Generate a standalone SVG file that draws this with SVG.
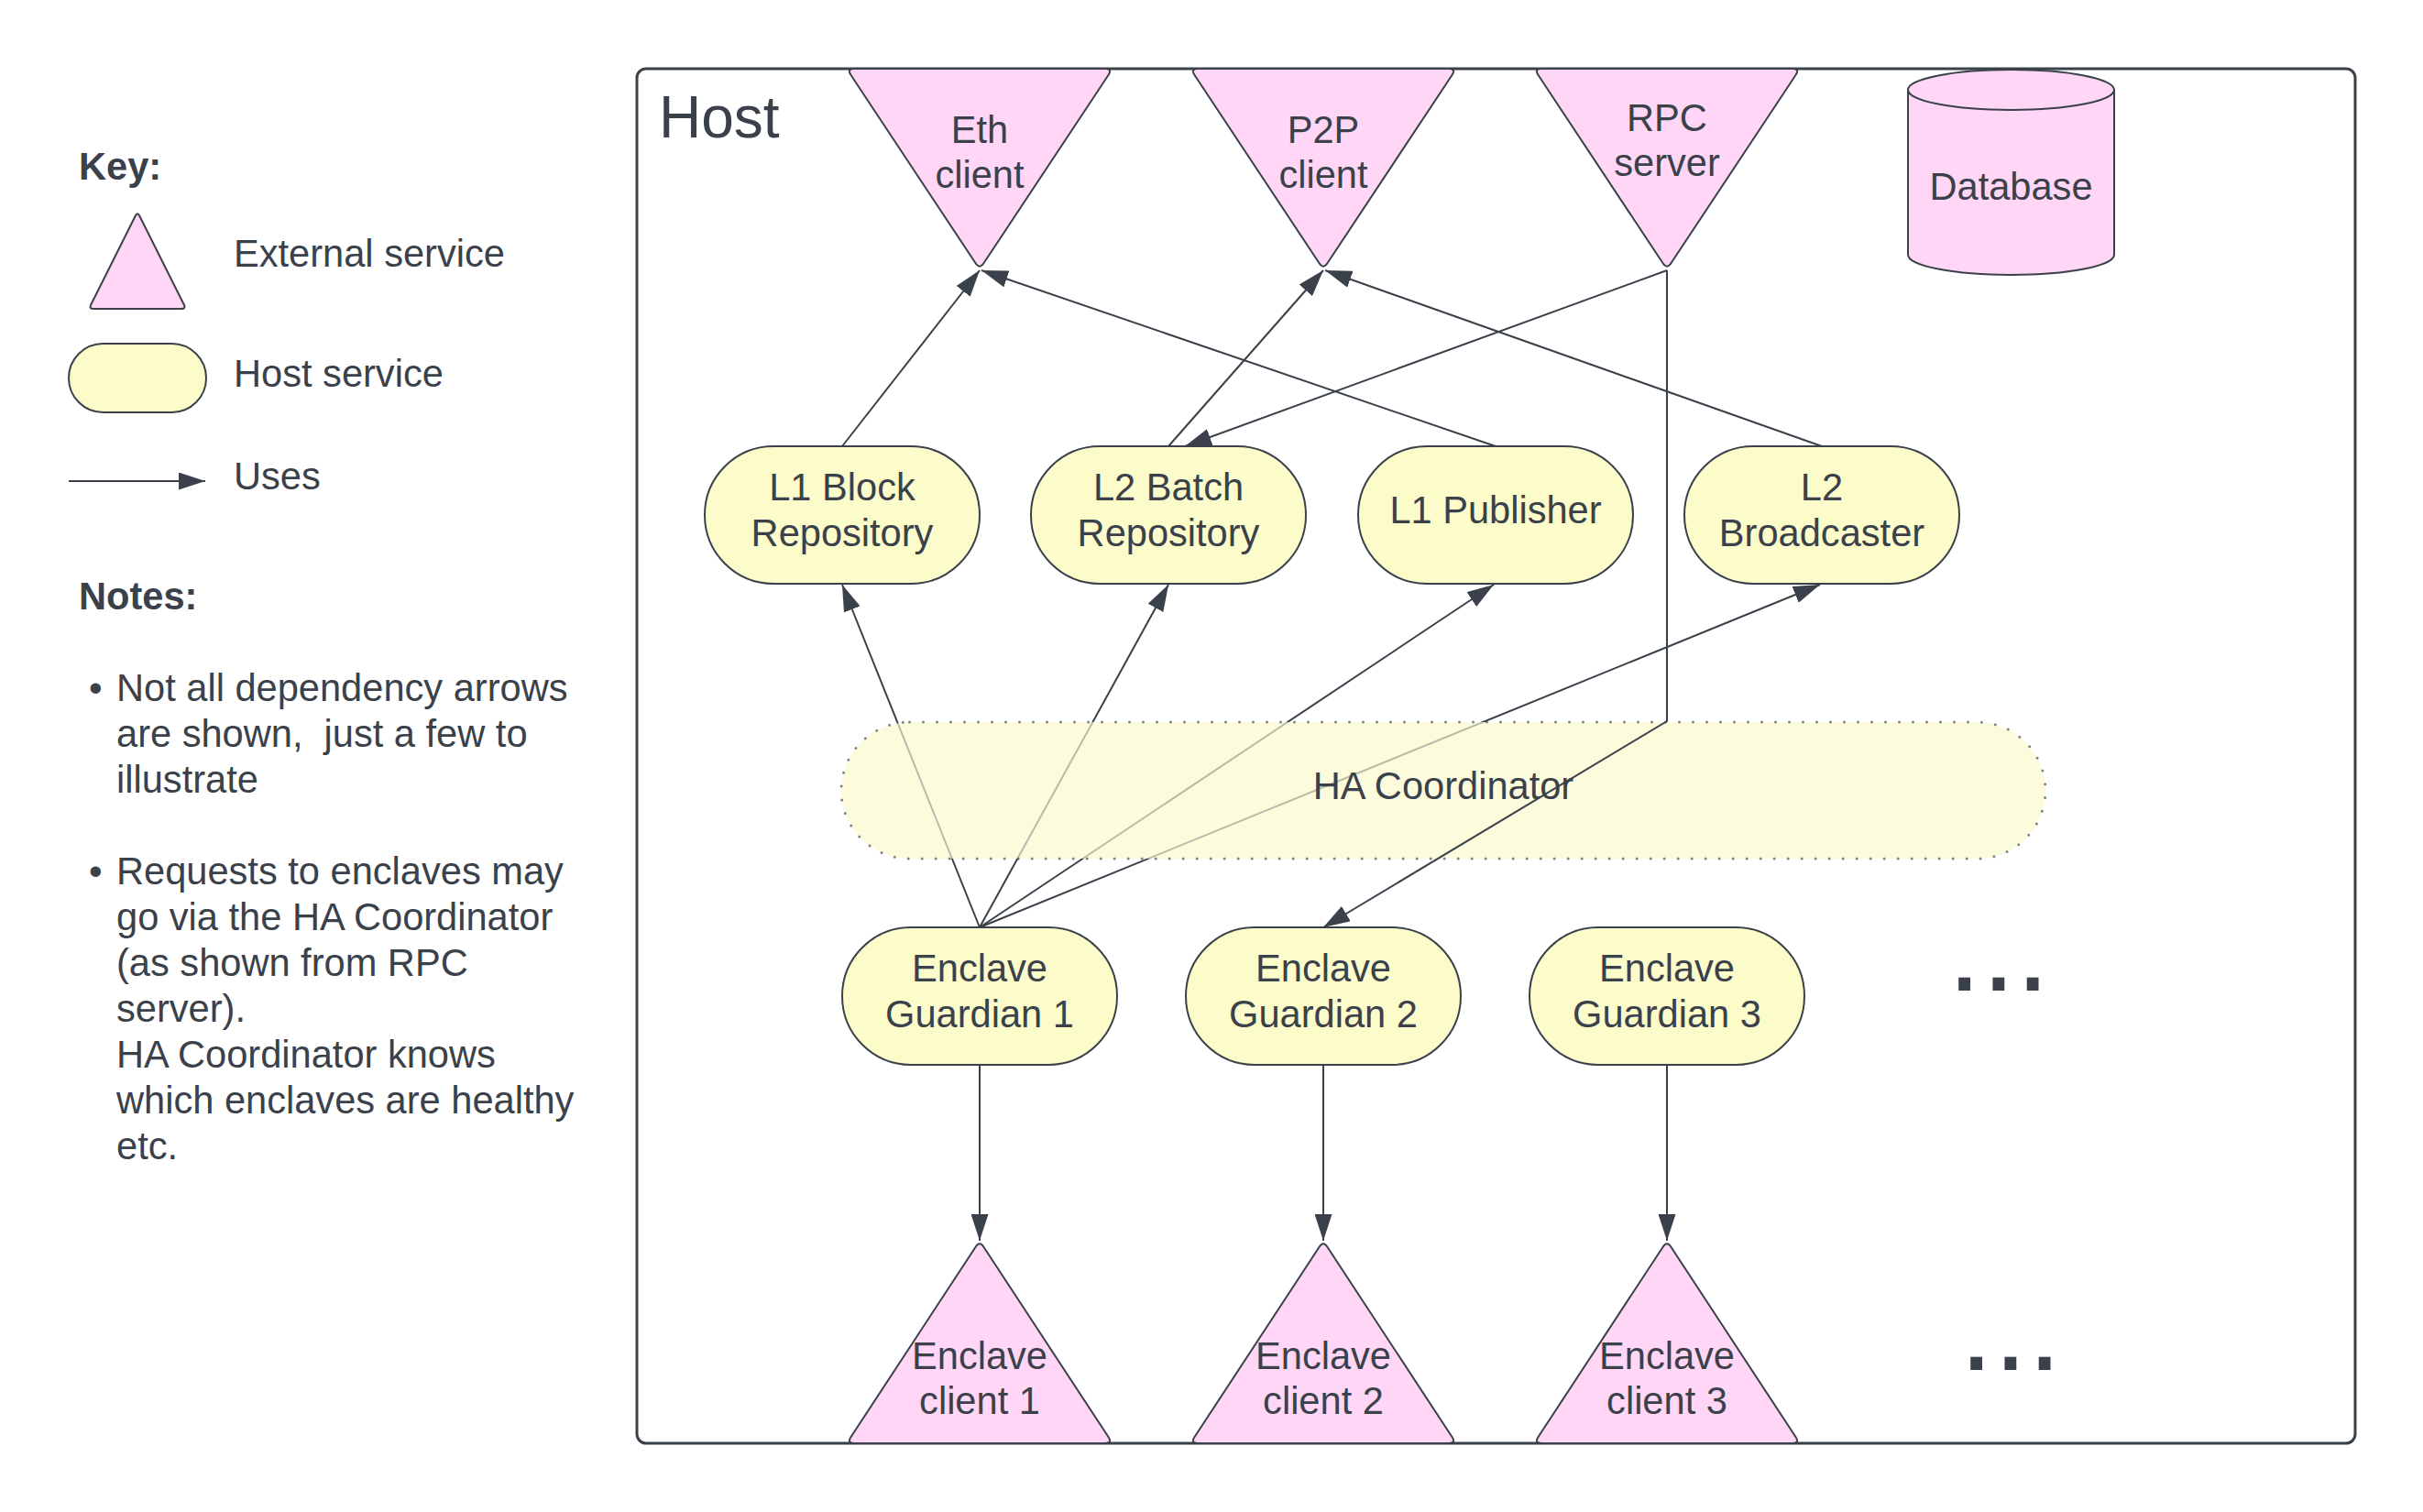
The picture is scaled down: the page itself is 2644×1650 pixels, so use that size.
<svg xmlns="http://www.w3.org/2000/svg" width="2644" height="1650" viewBox="0 0 2644 1650">
<defs>
<style>
text { font-family: "Liberation Sans", Arial, sans-serif; fill: #3a414a; font-size: 41.6px; }
.c { text-anchor: middle; }
.b { font-weight: bold; }
.ext { fill: #ffd6f5; stroke: #3a414a; stroke-width: 2; stroke-linejoin: round; }
.svc { fill: #fcfbca; stroke: #3a414a; stroke-width: 2; }
.edge { fill: none; stroke: #3a414a; stroke-width: 2; }
.arrow { marker-end: url(#ah); }
.dots { font-size: 134px; }
</style>
<marker id="ah" markerUnits="userSpaceOnUse" viewBox="0 0 29 19" refX="29" refY="9.5" markerWidth="29" markerHeight="19" orient="auto"><path d="M0,0 L29,9.5 L0,19 Z" fill="#3a414a"/></marker>
<path id="tri-down" d="M8,0 L282,0 Q290,0 285.6,6.7 L149.4,212.3 Q145,219 140.6,212.3 L4.4,6.7 Q0,0 8,0 Z"/>
<path id="tri-up" d="M140.6,6.7 Q145,0 149.4,6.7 L285.6,214.3 Q290,221 282,221 L8,221 Q0,221 4.4,214.3 Z"/>
<rect id="pill" width="300" height="150" rx="75" ry="75"/>
<mask id="under-ha" maskUnits="userSpaceOnUse" x="0" y="0" width="2644" height="1650">
<rect width="2644" height="1650" fill="#ffffff"/>
<rect x="918" y="788" width="1314" height="149" rx="74.5" ry="74.5" fill="#595959"/>
</mask>
</defs>
<rect width="2644" height="1650" fill="#ffffff"/>

<g id="host">
<rect x="695" y="75" width="1875" height="1500" rx="10" ry="10" fill="none" stroke="#3a414a" stroke-width="3"/>
<text x="719" y="150" style="font-size:64px">Host</text>
</g>

<g id="legend">
<text class="b" x="86" y="196">Key:</text>
<path class="ext" d="M147.8,235.5 Q150,231 152.2,235.5 L200.8,332.5 Q203,337 198,337 L102,337 Q97,337 99.2,332.5 Z"/>
<text x="255" y="291">External service</text>
<rect class="svc" x="75" y="375" width="150" height="75" rx="37.5" ry="37.5"/>
<text x="255" y="422">Host service</text>
<line class="edge arrow" x1="75" y1="525" x2="224" y2="525"/>
<text x="255" y="534">Uses</text>
<text class="b" x="86" y="665">Notes:</text>
<text x="97" y="765">•</text>
<text x="127" y="765">Not all dependency arrows</text>
<text x="127" y="815" xml:space="preserve">are shown,  just a few to</text>
<text x="127" y="865">illustrate</text>
<text x="97" y="965">•</text>
<text x="127" y="965">Requests to enclaves may</text>
<text x="127" y="1015">go via the HA Coordinator</text>
<text x="127" y="1065">(as shown from RPC</text>
<text x="127" y="1115">server).</text>
<text x="127" y="1165">HA Coordinator knows</text>
<text x="127" y="1215">which enclaves are healthy</text>
<text x="127" y="1265">etc.</text>
</g>

<g id="eth-client">
<use href="#tri-down" class="ext" x="924" y="75"/>
<text class="c" x="1069" y="156">Eth</text>
<text class="c" x="1069" y="205">client</text>
</g>
<g id="p2p-client">
<use href="#tri-down" class="ext" x="1299" y="75"/>
<text class="c" x="1444" y="156">P2P</text>
<text class="c" x="1444" y="205">client</text>
</g>
<g id="rpc-server">
<use href="#tri-down" class="ext" x="1674" y="75"/>
<text class="c" x="1819" y="143">RPC</text>
<text class="c" x="1819" y="192">server</text>
</g>
<g id="database">
<path class="ext" d="M2082,98 L2082,278 A112.5,22 0 0 0 2307,278 L2307,98 A112.5,22 0 0 0 2082,98 Z"/>
<path fill="none" stroke="#3a414a" stroke-width="2" d="M2082,98 A112.5,22 0 0 0 2307,98"/>
<text class="c" x="2194.5" y="218">Database</text>
</g>

<g id="l1-block-repository">
<use href="#pill" class="svc" x="769" y="487"/>
<text class="c" x="919" y="546">L1 Block</text>
<text class="c" x="919" y="596">Repository</text>
</g>
<g id="l2-batch-repository">
<use href="#pill" class="svc" x="1125" y="487"/>
<text class="c" x="1275" y="546">L2 Batch</text>
<text class="c" x="1275" y="596">Repository</text>
</g>
<g id="l1-publisher">
<use href="#pill" class="svc" x="1482" y="487"/>
<text class="c" x="1632" y="571">L1 Publisher</text>
</g>
<g id="l2-broadcaster">
<use href="#pill" class="svc" x="1838" y="487"/>
<text class="c" x="1988" y="546">L2</text>
<text class="c" x="1988" y="596">Broadcaster</text>
</g>

<g id="ha-coordinator">
<rect x="918" y="788" width="1314" height="149" rx="74.5" ry="74.5" fill="#fcfcdd" stroke="#7d8188" stroke-width="3" stroke-dasharray="0 15" stroke-linecap="round"/>
<text class="c" x="1575" y="872">HA Coordinator</text>
</g>

<g id="enclave-guardian-1">
<use href="#pill" class="svc" x="919" y="1012"/>
<text class="c" x="1069" y="1071">Enclave</text>
<text class="c" x="1069" y="1121">Guardian 1</text>
</g>
<g id="enclave-guardian-2">
<use href="#pill" class="svc" x="1294" y="1012"/>
<text class="c" x="1444" y="1071">Enclave</text>
<text class="c" x="1444" y="1121">Guardian 2</text>
</g>
<g id="enclave-guardian-3">
<use href="#pill" class="svc" x="1669" y="1012"/>
<text class="c" x="1819" y="1071">Enclave</text>
<text class="c" x="1819" y="1121">Guardian 3</text>
</g>
<g id="more-guardians">
<text class="dots" x="2125" y="1081">...</text>
</g>

<g id="enclave-client-1">
<use href="#tri-up" class="ext" x="924" y="1354"/>
<text class="c" x="1069" y="1494">Enclave</text>
<text class="c" x="1069" y="1543">client 1</text>
</g>
<g id="enclave-client-2">
<use href="#tri-up" class="ext" x="1299" y="1354"/>
<text class="c" x="1444" y="1494">Enclave</text>
<text class="c" x="1444" y="1543">client 2</text>
</g>
<g id="enclave-client-3">
<use href="#tri-up" class="ext" x="1674" y="1354"/>
<text class="c" x="1819" y="1494">Enclave</text>
<text class="c" x="1819" y="1543">client 3</text>
</g>
<g id="more-clients">
<text class="dots" x="2138" y="1495">...</text>
</g>

<g id="connectors">
<line class="edge arrow" x1="919" y1="487" x2="1069" y2="295"/>
<line class="edge arrow" x1="1632" y1="487" x2="1071" y2="295"/>
<line class="edge arrow" x1="1275" y1="487" x2="1444" y2="295"/>
<line class="edge arrow" x1="1988" y1="487" x2="1446" y2="295"/>
<line class="edge arrow" x1="1819" y1="295" x2="1293" y2="487"/>
<path class="edge arrow" d="M1819,295 L1819,787 L1444,1012"/>
<g mask="url(#under-ha)">
<line class="edge arrow" x1="1069" y1="1012" x2="919" y2="638"/>
<line class="edge arrow" x1="1069" y1="1012" x2="1275" y2="638"/>
<line class="edge arrow" x1="1069" y1="1012" x2="1630" y2="638"/>
<line class="edge arrow" x1="1069" y1="1012" x2="1986" y2="638"/>
</g>
<line class="edge arrow" x1="1069" y1="1162" x2="1069" y2="1354"/>
<line class="edge arrow" x1="1444" y1="1162" x2="1444" y2="1354"/>
<line class="edge arrow" x1="1819" y1="1162" x2="1819" y2="1354"/>
</g>
</svg>
